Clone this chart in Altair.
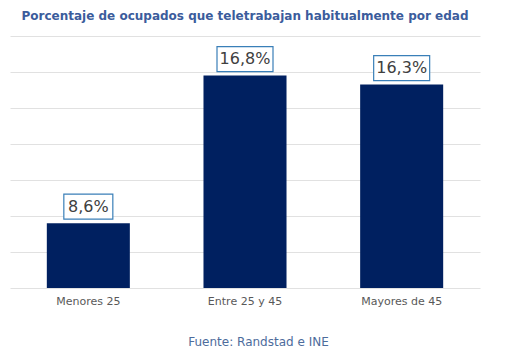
import altair as alt
import pandas as pd

categories = ["Menores 25", "Entre 25 y 45", "Mayores de 45"]
values = [8.6, 16.8, 16.3]
y_ticks = [5, 7, 9, 11, 13, 15, 17, 19]

df = pd.DataFrame({"grupo": categories, "valor": values})

FONT = "DejaVu Sans"

x = alt.X(
    "grupo:N",
    sort=categories,
    scale=alt.Scale(paddingInner=0.47, paddingOuter=0.235),
    axis=alt.Axis(
        title="Fuente: Randstad e INE",
        titleColor="#4d6c9c",
        titleFont=FONT,
        titleFontSize=12,
        titleFontWeight="normal",
        titlePadding=30,
        titleX=248,
        labelAngle=0,
        labelColor="#595959",
        labelFont=FONT,
        labelFontSize=11,
        labelPadding=7,
        domain=False,
        ticks=False,
        grid=False,
    ),
)

y = alt.Y(
    "valor:Q",
    scale=alt.Scale(domain=[5, 19], zero=False, nice=False),
    axis=alt.Axis(
        values=y_ticks,
        labels=False,
        ticks=False,
        domain=False,
        title=None,
        grid=True,
        gridColor="#e1e1e1",
        gridWidth=1,
    ),
)

base = (
    alt.Chart(df)
    .transform_calculate(label="replace(format(datum.valor, '.1f'), '.', ',') + '%'")
    .encode(x=x, y=y)
)

bars = base.mark_bar(color="#002060").encode(y2=alt.datum(5))

boxes = base.mark_bar(
    fill="white",
    stroke="#3a7fb8",
    strokeWidth=1.2,
    width=alt.expr("7*length(datum.label)+21"),
    yOffset=-29,
    y2Offset=-4,
).encode(y2=alt.Y2("valor:Q"))

labels = base.mark_text(
    font=FONT,
    fontSize=16,
    color="#404040",
    dy=-16.5,
    baseline="middle",
).encode(text="label:N")

chart = (
    alt.layer(bars, boxes, labels)
    .properties(
        width=470,
        height=252,
        view=alt.ViewBackground(strokeOpacity=0, strokeWidth=0),
        autosize=alt.AutoSizeParams(type="none"),
        padding={"left": 2, "top": 28, "right": 24, "bottom": 64},
        title=alt.TitleParams(
            "Porcentaje de ocupados que teletrabajan habitualmente por edad",
            font=FONT,
            fontSize=12,
            fontWeight="bold",
            color="#3b5c9c",
            anchor="middle",
            offset=13,
        ),
    )
    .configure_view(strokeOpacity=0, strokeWidth=0)
    .configure_axisX(grid=False, domain=False)
    .configure(background="white")
)

chart.save("out.html", embed_options={"renderer": "svg", "actions": False})
